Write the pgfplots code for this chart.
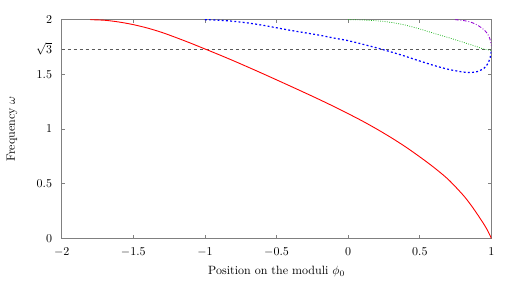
\documentclass[border=0pt]{standalone}
\usepackage{pgfplots}
\pgfplotsset{compat=1.18}
\definecolor{axgray}{gray}{0.5}
\definecolor{mygreen}{rgb}{0.1,0.7,0.1}
\definecolor{mypurple}{rgb}{0.58,0.0,0.83}
\begin{document}
\begin{tikzpicture}
\begin{axis}[
  scale only axis,
  width=358pt, height=182.3pt,
  xmin=-2, xmax=1, ymin=0, ymax=2,
  axis line style={axgray, line width=0.7pt},
  tick style={axgray, line width=0.6pt},
  major tick length=3pt,
  tick align=inside,
  xtick={-2,-1.5,-1,-0.5,0,0.5,1},
  ytick={0,0.5,1,1.5,1.7320508,2},
  yticklabels={$0$,$0.5$,$1$,$1.5$,$\sqrt{3}$,$2$},
  xlabel={Position on the moduli $\phi_0$},
  ylabel={Frequency $\omega$},
  xlabel style={at={(axis description cs:0.5,-0.152)}, anchor=center},
  ylabel style={at={(axis description cs:-0.1156,0.5)}, anchor=center},
  every tick label/.append style={black},
  xticklabel style={yshift=-4.5pt},
  yticklabel style={xshift=-4.5pt},
]
\addplot[gray!70!black, line width=0.7pt, dash pattern=on 3pt off 2pt] coordinates {(-2,1.7320508) (1,1.7320508)};
\addplot[red, line width=0.75pt, smooth] coordinates {
(-1.8,2.000) (-1.7,1.9947) (-1.6,1.9787) (-1.5,1.9548) (-1.4,1.923) (-1.3,1.8833)
(-1.2,1.8357) (-1.1,1.7854) (-1.0,1.7324) (-0.9,1.679) (-0.8,1.624) (-0.7,1.567)
(-0.6,1.509) (-0.5,1.450) (-0.4,1.3905) (-0.3,1.3305) (-0.2,1.2695) (-0.1,1.2065)
(0.0,1.141) (0.1,1.073) (0.2,1.000) (0.3,0.922) (0.4,0.838) (0.5,0.746)
(0.6,0.648) (0.7,0.538) (0.8,0.400) (0.85,0.318) (0.9,0.225) (0.95,0.125) (0.975,0.068) (1.0,0.0)
};
\addplot[blue, line width=1pt, dash pattern=on 1.6pt off 1.9pt, smooth, tension=0.5] coordinates {
(-1.0,2.000) (-0.9,1.995) (-0.8,1.985) (-0.7,1.970) (-0.6,1.950) (-0.5,1.926)
(-0.4,1.902) (-0.3,1.880) (-0.2,1.858) (-0.1,1.832) (0.0,1.808) (0.1,1.776)
(0.2,1.742) (0.3,1.705) (0.4,1.665) (0.5,1.622) (0.6,1.581) (0.7,1.546)
(0.8,1.522) (0.85,1.517) (0.9,1.525) (0.95,1.558) (0.975,1.600) (0.99,1.650) (1.0,1.720)
};
\addplot[mygreen, line width=0.6pt, dash pattern=on 0.7pt off 1.2pt, smooth] coordinates {
(0.0,2.000) (0.1,1.997) (0.2,1.990) (0.3,1.975) (0.4,1.950) (0.5,1.915)
(0.6,1.875) (0.7,1.836) (0.8,1.795) (0.9,1.752) (0.95,1.730) (1.0,1.720)
};
\addplot[mypurple, line width=0.7pt, dash pattern=on 3pt off 1.5pt on 0.7pt off 1.5pt, smooth, tension=0.5] coordinates {
(0.746,2.000) (0.8,1.993) (0.85,1.980) (0.9,1.952) (0.95,1.905) (0.975,1.865) (0.99,1.820) (1.0,1.760)
};
\end{axis}
\path (-51.4pt,-38.7pt) rectangle (380.1pt,198.7pt);
\end{tikzpicture}
\end{document}
